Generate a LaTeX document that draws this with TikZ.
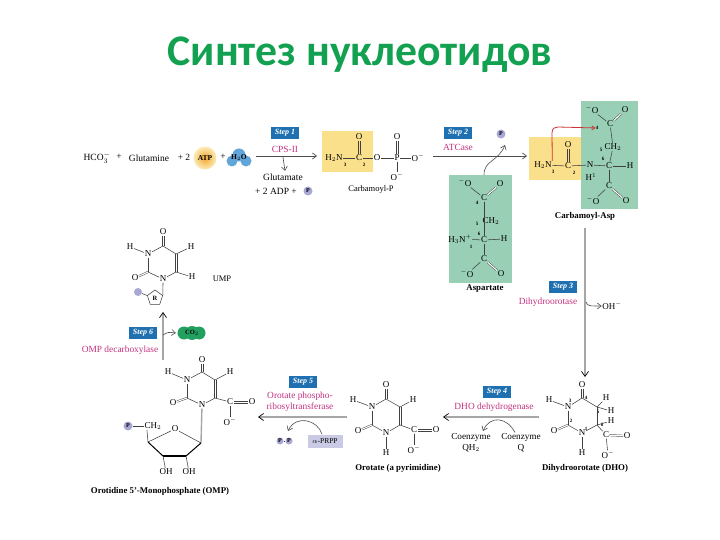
\documentclass[tikz,border=0pt]{standalone}
\usepackage{fontspec}
\setmainfont{Liberation Serif}
\newfontfamily\titlefont{Carlito}
\usetikzlibrary{arrows.meta, shapes.geometric}
\definecolor{stepblue}{HTML}{1F70B0}
\definecolor{enzpink}{HTML}{C2307F}
\definecolor{greenbox}{HTML}{98CFB5}
\definecolor{yellowbox}{HTML}{FBE08C}
\definecolor{lav}{HTML}{A9A7D4}
\definecolor{titlegreen}{HTML}{12A150}
\definecolor{waterblue}{HTML}{62A5D8}
\definecolor{cogreen}{HTML}{22A060}
\definecolor{atpin}{HTML}{F2A72E}
\definecolor{atpout}{HTML}{FDEBB8}
\tikzset{
  atom/.style={inner sep=0.5pt, font=\fontsize{9}{9}\selectfont},
  num/.style={inner sep=0pt, font=\fontsize{5}{5}\bfseries\selectfont},
  lbl/.style={inner sep=0pt, font=\fontsize{9.5}{10}\selectfont},
  coenzyme/.style={inner sep=0pt, align=center, font=\fontsize{9.2}{11}\selectfont},
  caption/.style={inner sep=0pt, font=\fontsize{8.8}{9}\bfseries\selectfont},
  stepbox/.style={fill=stepblue, text=white, minimum width=28, minimum height=12, inner sep=0pt, font=\fontsize{8}{8}\bfseries\itshape\selectfont},
  enzyme/.style={text=enzpink, inner sep=0pt, align=center, font=\fontsize{9.4}{11}\selectfont},
  phos/.style={circle, fill=lav, inner sep=0pt, minimum size=9, font=\fontsize{6}{6}\bfseries\selectfont},
  bond/.style={draw=black!75, line width=0.55},
  dbond/.style={draw=black!75, double, double distance=1.1pt, line width=0.45},
  mainarrow/.style={draw=black!70, line width=0.7, -{Straight Barb[length=4pt,width=6pt]}},
  grayarrow/.style={draw=black!35, line width=1.4, -{Straight Barb[length=5pt,width=7pt,color=black,line width=0.7]}},
  sidearrow/.style={draw=black!70, line width=0.6, -{Straight Barb[length=4pt,width=6pt]}},
}
% Double bonds along the axes, as two strokes
\newcommand{\vdbl}[2]{%
  \draw[bond, transform canvas={xshift=-0.9pt}] (#1) -- (#2);
  \draw[bond, transform canvas={xshift=0.9pt}] (#1) -- (#2);}
\newcommand{\hdbl}[2]{%
  \draw[bond, transform canvas={yshift=-0.9pt}] (#1) -- (#2);
  \draw[bond, transform canvas={yshift=0.9pt}] (#1) -- (#2);}
\begin{document}
\begin{tikzpicture}[x=1pt, y=-1pt]
  \useasboundingbox (0,0) rectangle (720,540);
  % Title
  \node[text=titlegreen, inner sep=0pt, font=\fontsize{43.7}{46}\titlefont\bfseries\selectfont] (title) at (360,55) {Синтез нуклеотидов};
  % Colored boxes
  \fill[yellowbox] (322,131) rectangle (373,172);
  \fill[greenbox] (449,175) rectangle (512,283);
  \fill[yellowbox] (529,137) rectangle (582,180);
  \fill[greenbox] (581,101) rectangle (638,209);

  % Substrates of step 1
  \node[lbl] (hco) at (97,158) {HCO$_3^-$};
  \node[lbl] (plusa) at (119,157) {+};
  \node[lbl] (gln) at (149,158) {Glutamine};
  \node[lbl] (plusb) at (184,157) {+ 2};
  \node[circle, inner color=atpin, outer color=atpout, inner sep=0pt, minimum size=23, font=\fontsize{7.5}{8}\bfseries\selectfont] (atp) at (205,158) {ATP};
  \node[lbl] (plusc) at (223,157) {+};
  \fill[waterblue] (232,161) circle (5.5) (246,161) circle (5.5) (239,155) circle (6.5);
  \node[inner sep=0pt, font=\fontsize{7.5}{8}\bfseries\selectfont] (water) at (239,158) {H$_2$O};
  % Step 1
  \coordinate (aa) at (256,156);
  \coordinate (ab) at (317,156);
  \draw[mainarrow] (aa) -- (ab);
  \node[stepbox] (stepa) at (285,133) {Step 1};
  \node[enzyme] (cps) at (285,149) {CPS-II};
  \coordinate (ac) at (283,157);
  \node[lbl] (glu) at (283,177) {Glutamate};
  \node[lbl] (adp) at (276,191) {+ 2 ADP +};
  \node[phos] (pa) at (308,191) {P};
  \draw[sidearrow] (ac) -- (285,171);
  % Carbamoyl-P
  \node[atom] (cpn) at (334,158) {H$_2$N};
  \node[atom] (cpc) at (359,158) {C};
  \node[atom] (cpo) at (359,137) {O};
  \node[atom] (cpob) at (377,158) {O};
  \node[atom] (cpp) at (397,158) {P};
  \node[atom] (cppo) at (397,137) {O};
  \node[atom] (cpor) at (418,158) {O$^-$};
  \node[atom] (cpod) at (397,177) {O$^-$};
  \node[num] at (345,164.5) {3};
  \node[num] at (364,164.5) {2};
  \draw[bond] (cpn) -- (cpc);
  \draw[bond] (cpc) -- (cpob);
  \draw[bond] (cpob) -- (cpp);
  \draw[bond] (cpp) -- (cpor);
  \draw[bond] (cpp) -- (cpod);
  \vdbl{cpc}{cpo}
  \vdbl{cpp}{cppo}
  \node[inner sep=0pt, font=\fontsize{8.5}{9}\selectfont] (cpcap) at (371,189) {Carbamoyl-P};

  % Step 2
  \coordinate (ba) at (433,156);
  \coordinate (bb) at (527,156);
  \draw[mainarrow] (ba) -- (bb);
  \node[stepbox] (stepb) at (458,133) {Step 2};
  \node[enzyme] (atc) at (458,147) {ATCase};
  \node[phos] (pb) at (501,134) {P};
  % Aspartate
  \node[atom] (asoa) at (465,183) {$^-$O};
  \node[atom] (asob) at (500,184) {O};
  \node[atom] (asca) at (484,198) {C};
  \node[atom] (asch) at (491,221) {CH$_2$};
  \node[atom] (ascb) at (484,240) {C};
  \node[atom] (asn) at (460,239) {H$_3$N$^+$};
  \node[atom] (ash) at (504,239) {H};
  \node[atom] (ascc) at (484,259) {C};
  \node[atom] (asoc) at (467,274) {$^-$O};
  \node[atom] (asod) at (501,274) {O};
  \node[num] at (477,203) {4};
  \node[num] at (477,224) {5};
  \node[num] at (479,234) {6};
  \node[num] at (471,247) {1};
  \draw[bond] (asoa) -- (asca);
  \draw[dbond] (asca) -- (asob);
  \draw[bond] (asca) -- (ascb);
  \draw[bond] (asn) -- (ascb);
  \draw[bond] (ascb) -- (ash);
  \draw[bond] (ascb) -- (ascc);
  \draw[bond] (ascc) -- (asoc);
  \draw[dbond] (ascc) -- (asod);
  \node[caption] (ascap) at (485,289) {Aspartate};
  \coordinate (asout) at (484,175);
  \draw[sidearrow] (asout) .. controls (484,160) and (498,162) .. (505,145);
  % Carbamoyl-Asp
  \node[atom] (ctn) at (543,165) {H$_2$N};
  \node[atom] (ctc) at (568,166) {C};
  \node[atom] (cto) at (568,145) {O};
  \node[atom] (ctm) at (590,165) {N};
  \node[atom] (cth) at (591,177) {H$^1$};
  \node[atom] (ctca) at (609,166) {C};
  \node[atom] (ctr) at (630,166) {H};
  \node[atom] (ctch) at (613,147) {CH$_2$};
  \node[atom] (ctcb) at (610,124) {C};
  \node[atom] (ctoa) at (592,110) {$^-$O};
  \node[atom] (ctob) at (625,110) {O};
  \node[atom] (ctcc) at (609,186) {C};
  \node[atom] (ctoc) at (593,201) {$^-$O};
  \node[atom] (ctod) at (626,201) {O};
  \node[num] at (553,172) {3};
  \node[num] at (574,173) {2};
  \node[num] at (603,159) {6};
  \node[num] at (601,150) {5};
  \node[num] (ctfour) at (597,128) {4};
  \draw[bond] (ctn) -- (ctc);
  \vdbl{ctc}{cto}
  \draw[bond] (ctc) -- (ctm);
  \draw[bond] (ctm) -- (ctca);
  \draw[bond] (ctca) -- (ctr);
  \draw[bond] (ctca) -- (ctcc);
  \draw[bond] (ctca) -- (ctch);
  \draw[bond] (ctch) -- (ctcb);
  \draw[bond] (ctcb) -- (ctoa);
  \draw[dbond] (ctcb) -- (ctob);
  \draw[bond] (ctcc) -- (ctoc);
  \draw[dbond] (ctcc) -- (ctod);
  \node[caption] (ctcap) at (585,216) {Carbamoyl-Asp};
  % Red bond drawn in on the new N-C
  \draw[draw=red!75!black!80, line width=0.8, -{Straight Barb[length=3pt,width=4pt]}] (ctn.north east) -- (552,133) .. controls (552,128) and (555,127) .. (558,127) -- (ctfour);

  % Step 3
  \coordinate (ca) at (585,228);
  \coordinate (cb) at (585,377);
  \draw[grayarrow] (ca) -- (cb);
  \node[stepbox] (stepc) at (563,287) {Step 3};
  \node[enzyme] (dhase) at (548,302) {Dihydroorotase};
  \coordinate (cc) at (586,302);
  \node[atom] (oh) at (612,306) {OH$^-$};
  \draw[sidearrow] (cc) .. controls (588,306) .. (oh);
  % DHO
  \node[atom] (doa) at (582,385) {O};
  \coordinate (dca) at (582,398);
  \node[atom] (dna) at (568,407) {N};
  \node[atom] (dha) at (549,400) {H};
  \coordinate (dcb) at (597,407);
  \node[atom] (dhb) at (606,398) {H};
  \node[atom] (dhc) at (611,411) {H};
  \coordinate (dcc) at (597,425);
  \node[atom] (dhd) at (611,421) {H};
  \coordinate (dcd) at (568,425);
  \node[atom] (dob) at (554,431) {O};
  \node[atom] (dnb) at (582,433) {N};
  \node[atom] (dhe) at (582,453) {H};
  \node[atom] (dce) at (606,435) {C};
  \node[atom] (doc) at (627,436) {O};
  \node[atom] (dod) at (608,455) {O$^-$};
  \node[num] at (570,401) {3};
  \node[num] at (586,398) {4};
  \node[num] at (598,412) {5};
  \node[num] at (602,425) {6};
  \node[num] at (571,421) {2};
  \node[num] at (586,429) {1};
  \vdbl{doa}{dca}
  \draw[bond] (dca) -- (dna);
  \draw[bond] (dna) -- (dha);
  \draw[bond] (dna) -- (dcd);
  \draw[bond] (dca) -- (dcb);
  \draw[bond] (dcb) -- (dhb);
  \draw[bond] (dcb) -- (dhc);
  \draw[bond] (dcb) -- (dcc);
  \draw[bond] (dcc) -- (dhd);
  \draw[bond] (dcc) -- (dnb);
  \draw[bond] (dcc) -- (dce);
  \draw[bond] (dnb) -- (dcd);
  \draw[bond] (dnb) -- (dhe);
  \draw[dbond] (dcd) -- (dob);
  \draw[dbond] (dce) -- (doc);
  \draw[bond] (dce) -- (dod);
  \node[caption] (dcap) at (585,468) {Dihydroorotate (DHO)};

  % Step 4
  \coordinate (da) at (539,417);
  \coordinate (db) at (443,417);
  \draw[grayarrow] (da) -- (db);
  \node[stepbox] (stepd) at (497,392) {Step 4};
  \node[enzyme] (dhod) at (494,407) {DHO dehydrogenase};
  \node[coenzyme] (qh) at (471,443) {Coenzyme\\QH$_2$};
  \node[coenzyme] (qq) at (521,443) {Coenzyme\\Q};
  \draw[sidearrow] (qq.north) ++(-6,-1) .. controls (507,417) and (490,415) .. (483,431);
  % Orotate
  \node[atom] (ooa) at (386,385) {O};
  \coordinate (oca) at (386,399);
  \node[atom] (ona) at (372,407) {N};
  \node[atom] (oha) at (353,400) {H};
  \coordinate (ocb) at (400,407);
  \node[atom] (ohb) at (413,400) {H};
  \coordinate (occ) at (400,425);
  \coordinate (ocd) at (372,425);
  \node[atom] (oob) at (358,431) {O};
  \node[atom] (onb) at (386,433) {N};
  \node[atom] (ohc) at (386,453) {H};
  \node[atom] (oce) at (414,430) {C};
  \node[atom] (ooc) at (436,430) {O};
  \node[atom] (ood) at (414,450) {O$^-$};
  \vdbl{ooa}{oca}
  \draw[bond] (oca) -- (ona);
  \draw[bond] (ona) -- (oha);
  \draw[bond] (ona) -- (ocd);
  \draw[bond] (oca) -- (ocb);
  \draw[bond] (ocb) -- (ohb);
  \vdbl{ocb}{occ}
  \draw[bond] (occ) -- (onb);
  \draw[bond] (occ) -- (oce);
  \draw[bond] (onb) -- (ocd);
  \draw[bond] (onb) -- (ohc);
  \draw[dbond] (ocd) -- (oob);
  \hdbl{oce}{ooc}
  \draw[bond] (oce) -- (ood);
  \node[caption] (ocap) at (398,468) {Orotate (a pyrimidine)};

  % Step 5
  \coordinate (ea) at (347,417);
  \coordinate (eb) at (258,417);
  \draw[grayarrow] (ea) -- (eb);
  \node[stepbox] (stepe) at (303,382) {Step 5};
  \node[enzyme] (oprt) at (300,402) {Orotate phospho-\\ribosyltransferase};
  \node[fill=lav!60, inner sep=0pt, minimum width=35, minimum height=13, font=\fontsize{7.5}{8}\selectfont] (prpp) at (325,441) {$\alpha$-PRPP};
  \node[phos, minimum size=7] (ppa) at (280,441) {P};
  \node[phos, minimum size=7] (ppb) at (289,441) {P};
  \draw[bond] (ppa) -- (ppb);
  \draw[sidearrow] (prpp.north) ++(-3,0) .. controls (318,420) and (296,414) .. (288,431);
  % OMP
  \node[atom] (moa) at (202,360) {O};
  \coordinate (mca) at (202,372);
  \node[atom] (mna) at (187,380) {N};
  \node[atom] (mha) at (168,372) {H};
  \coordinate (mcb) at (215,380);
  \node[atom] (mhb) at (230,372) {H};
  \coordinate (mcc) at (215,398);
  \coordinate (mcd) at (187,398);
  \node[atom] (mob) at (173,403) {O};
  \node[atom] (mnb) at (202,405) {N};
  \node[atom] (mce) at (230,402) {C};
  \node[atom] (moc) at (252,402) {O};
  \node[atom] (mod) at (230,422) {O$^-$};
  \vdbl{moa}{mca}
  \draw[bond] (mca) -- (mna);
  \draw[bond] (mna) -- (mha);
  \draw[bond] (mna) -- (mcd);
  \draw[bond] (mca) -- (mcb);
  \draw[bond] (mcb) -- (mhb);
  \vdbl{mcb}{mcc}
  \draw[bond] (mcc) -- (mnb);
  \draw[bond] (mcc) -- (mce);
  \draw[bond] (mnb) -- (mcd);
  \draw[dbond] (mcd) -- (mob);
  \hdbl{mce}{moc}
  \draw[bond] (mce) -- (mod);
  % Ribose ring of OMP
  \node[phos] (mp) at (128,426) {P};
  \node[atom] (mch) at (153,426) {CH$_2$};
  \node[atom] (mro) at (175,429) {O};
  \coordinate (mra) at (201,443);
  \coordinate (mrb) at (186,456);
  \coordinate (mrc) at (163,456);
  \coordinate (mrd) at (148,442);
  \node[atom] (moh) at (166,472) {OH};
  \node[atom] (mohb) at (189,472) {OH};
  \draw[draw=black!35, line width=1.4] (mnb) -- (mra);
  \draw[bond] (mp) -- (mch);
  \draw[bond] (mch.south west) ++(3,0) -- (mrd);
  \draw[bond] (mro) -- (mra);
  \draw[bond] (mro) -- (mrd);
  \draw[line width=1] (mra) -- (mrb);
  \draw[line width=1.8] (mrb) -- (mrc);
  \draw[line width=1] (mrc) -- (mrd);
  \draw[bond] (mrb) -- (mohb);
  \draw[bond] (mrc) -- (moh);
  \node[caption] (mcap) at (160,491) {Orotidine 5'-Monophosphate (OMP)};

  % Step 6
  \coordinate (fa) at (163,360);
  \coordinate (fb) at (163,312);
  \draw[grayarrow] (fa) -- (fb);
  \node[stepbox] (stepf) at (143,333) {Step 6};
  \node[enzyme] (ompd) at (120,350) {OMP decarboxylase};
  \fill[cogreen] (184,333) circle (6.5) (192,333) circle (7) (199,333) circle (6.5);
  \node[inner sep=0pt, font=\fontsize{6.5}{7}\bfseries\selectfont] (co) at (192,333) {CO$_2$};
  \coordinate (fc) at (163,335);
  \draw[sidearrow] (fc) .. controls (168,332) .. (176,333);
  % UMP
  \node[atom] (uoa) at (163,232) {O};
  \coordinate (uca) at (163,246);
  \node[atom] (una) at (148,254) {N};
  \node[atom] (uha) at (130,247) {H};
  \coordinate (ucb) at (176,254);
  \node[atom] (uhb) at (191,247) {H};
  \coordinate (ucc) at (176,272);
  \node[atom] (uhc) at (192,277) {H};
  \coordinate (ucd) at (148,272);
  \node[atom] (uob) at (135,278) {O};
  \node[atom] (unb) at (163,279) {N};
  \node[draw=black!75, line width=0.55, regular polygon, regular polygon sides=5, inner sep=0pt, minimum size=16, font=\fontsize{6.5}{7}\bfseries\selectfont] (ur) at (155,298) {R};
  \node[phos, minimum size=8] (up) at (138,292) {};
  \vdbl{uoa}{uca}
  \draw[bond] (uca) -- (una);
  \draw[bond] (una) -- (uha);
  \draw[bond] (una) -- (ucd);
  \draw[bond] (uca) -- (ucb);
  \draw[bond] (ucb) -- (uhb);
  \vdbl{ucb}{ucc}
  \draw[bond] (ucc) -- (uhc);
  \draw[bond] (ucc) -- (unb);
  \draw[bond] (unb) -- (ucd);
  \draw[dbond] (ucd) -- (uob);
  \draw[bond] (unb) -- (ur.corner 5);
  \draw[bond] (up) -- (ur.corner 2);
  \node[atom, font=\fontsize{8.5}{9}\selectfont] (ump) at (222,279) {UMP};
\end{tikzpicture}
\end{document}
